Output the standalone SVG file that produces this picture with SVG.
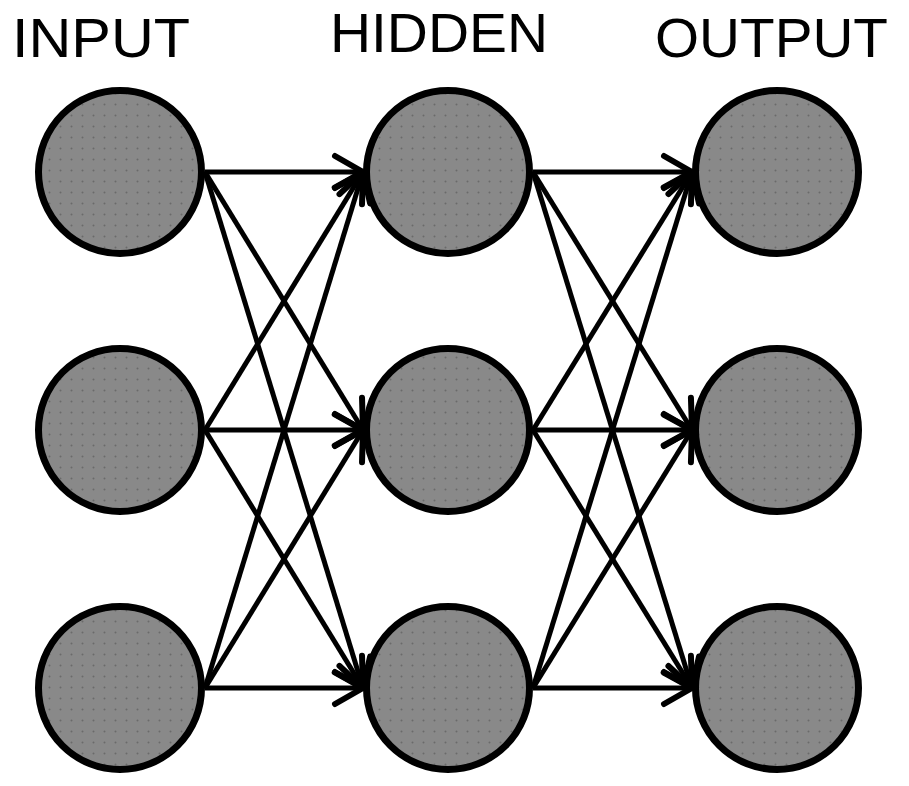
<svg xmlns="http://www.w3.org/2000/svg" width="909" height="786" viewBox="0 0 909 786">
<style>
.node{stroke:#000;stroke-width:7;fill:url(#dots)}
.lbl{font-family:"Liberation Sans",Arial,sans-serif;font-size:56px;fill:#000}
.edge{stroke:#000;stroke-width:5;fill:none;marker-end:url(#arr)}
</style>
<defs>
<pattern id="dots" width="11" height="11" patternUnits="userSpaceOnUse">
<rect width="11" height="11" fill="#898989"/>
<circle cx="5.5" cy="5.5" r="1" fill="#6a6a6a"/>
</pattern>
<marker id="arr" markerUnits="userSpaceOnUse" markerWidth="50" markerHeight="50" viewBox="-40 -25 50 50" refX="0" refY="0" orient="auto">
<path d="M-28,-16 L0,0 L-28,16" stroke="#000" stroke-width="6" stroke-linecap="round" stroke-linejoin="round" fill="none"/>
</marker>
</defs>
<rect width="909" height="786" fill="#fff"/>
<g id="labels">
<text class="lbl" x="12" y="57" textLength="178" lengthAdjust="spacingAndGlyphs">INPUT</text>
<text class="lbl" x="330" y="52" textLength="218" lengthAdjust="spacingAndGlyphs">HIDDEN</text>
<text class="lbl" x="655" y="57" textLength="233" lengthAdjust="spacingAndGlyphs">OUTPUT</text>
</g>
<g id="in1"><circle class="node" cx="120" cy="172" r="81.5"/></g>
<g id="in2"><circle class="node" cx="120" cy="430" r="81.5"/></g>
<g id="in3"><circle class="node" cx="120" cy="688" r="81.5"/></g>
<g id="h1"><circle class="node" cx="448" cy="172" r="81.5"/></g>
<g id="h2"><circle class="node" cx="448" cy="430" r="81.5"/></g>
<g id="h3"><circle class="node" cx="448" cy="688" r="81.5"/></g>
<g id="out1"><circle class="node" cx="777" cy="172" r="81.5"/></g>
<g id="out2"><circle class="node" cx="777" cy="430" r="81.5"/></g>
<g id="out3"><circle class="node" cx="777" cy="688" r="81.5"/></g>
<g id="connectors">
<line class="edge" x1="205" y1="172" x2="363" y2="172"/>
<line class="edge" x1="205" y1="172" x2="363" y2="430"/>
<line class="edge" x1="205" y1="172" x2="363" y2="688"/>
<line class="edge" x1="205" y1="430" x2="363" y2="172"/>
<line class="edge" x1="205" y1="430" x2="363" y2="430"/>
<line class="edge" x1="205" y1="430" x2="363" y2="688"/>
<line class="edge" x1="205" y1="688" x2="363" y2="172"/>
<line class="edge" x1="205" y1="688" x2="363" y2="430"/>
<line class="edge" x1="205" y1="688" x2="363" y2="688"/>
<line class="edge" x1="533" y1="172" x2="692" y2="172"/>
<line class="edge" x1="533" y1="172" x2="692" y2="430"/>
<line class="edge" x1="533" y1="172" x2="692" y2="688"/>
<line class="edge" x1="533" y1="430" x2="692" y2="172"/>
<line class="edge" x1="533" y1="430" x2="692" y2="430"/>
<line class="edge" x1="533" y1="430" x2="692" y2="688"/>
<line class="edge" x1="533" y1="688" x2="692" y2="172"/>
<line class="edge" x1="533" y1="688" x2="692" y2="430"/>
<line class="edge" x1="533" y1="688" x2="692" y2="688"/>
</g>
</svg>
